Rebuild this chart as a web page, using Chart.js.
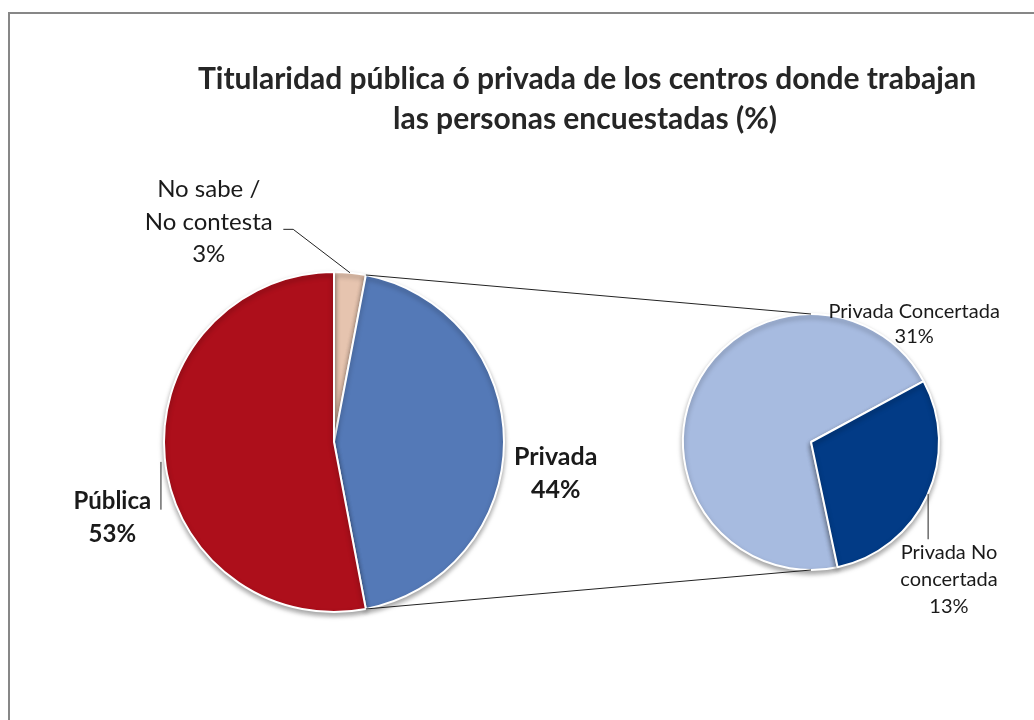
<!DOCTYPE html>
<html>
<head>
<meta charset="utf-8">
<script src="https://cdn.jsdelivr.net/npm/chart.js@4"></script>
<style>
  body { margin: 0; background: #fff; overflow: hidden; }
  #marco { position: absolute; left: 8px; top: 12px; width: 1100px; height: 800px; border: 2px solid #878787; }
  canvas { position: absolute; left: 0; top: 0; }
</style>
</head>
<body>
<div id="marco"></div>
<canvas id="principal" width="1034" height="720"></canvas>
<canvas id="secundario" width="1034" height="720"></canvas>
<script>
// Datos del gráfico
const titulo = ['Titularidad pública ó privada de los centros donde trabajan', 'las personas encuestadas (%)'];
const categorias = ['No sabe / No contesta', 'Privada', 'Pública'];
const valores = [3, 44, 53];
const lineasCategorias = [['No sabe /', 'No contesta'], ['Privada'], ['Pública']];
const subcategorias = ['Privada Concertada', 'Privada No concertada'];
const subvalores = [31, 13];
const lineasSubcategorias = [['Privada Concertada'], ['Privada No', 'concertada']];

const coloresPrincipal = ['#E6C4AF', '#5479B7', '#AD0F1B'];
const coloresSecundario = ['#A7BBE0', '#023B86'];

// posición de etiquetas relativa al centro (en radios)
const posPrincipal = [
  { dx: -0.737, dy: -1.485, lh: 32.5, font: '24px Lato', guia: [[-0.298, -1.251], [-0.24, -1.251], 'medio'] },
  { dx: 1.304, dy: 0.088, lh: 33, font: 'bold 25px Lato' },
  { dx: -1.304, dy: 0.351, lh: 33, font: 'bold 24px Lato', guia: [[-1.018, 0.117], [-1.018, 0.398]] }
];
const posSecundario = [
  { dx: 0.806, dy: -1.016, lh: 25, font: '20px Lato' },
  { dx: 1.078, dy: 0.86, lh: 27, font: '20px Lato', guia: [[0.915, 0.405], [0.915, 0.760]] }
];

function sombra(chart) {
  const ctx = chart.ctx;
  ctx.save();
  ctx.shadowColor = 'rgba(0,0,0,0.35)';
  ctx.shadowBlur = 5;
  ctx.shadowOffsetY = 3;
}

function dibujarEtiquetas(chart, lineas, vals, pos) {
  const ctx = chart.ctx;
  const arcos = chart.getDatasetMeta(0).data;
  ctx.save();
  arcos.forEach((arc, i) => {
    const p = pos[i];
    const r = arc.outerRadius;
    const textos = lineas[i].concat([vals[i] + '%']);
    ctx.font = p.font;
    ctx.fillStyle = '#1a1a1a';
    ctx.textAlign = 'center';
    ctx.textBaseline = 'middle';
    textos.forEach((t, k) => {
      ctx.fillText(t, arc.x + p.dx * r, arc.y + p.dy * r + k * p.lh);
    });
    if (p.guia) {
      ctx.strokeStyle = '#222';
      ctx.lineWidth = 1;
      ctx.beginPath();
      ctx.moveTo(arc.x + p.guia[0][0] * r, arc.y + p.guia[0][1] * r);
      ctx.lineTo(arc.x + p.guia[1][0] * r, arc.y + p.guia[1][1] * r);
      if (p.guia[2] === 'medio') {
        const a = (arc.startAngle + arc.endAngle) / 2;
        ctx.lineTo(arc.x + Math.cos(a) * r, arc.y + Math.sin(a) * r);
      }
      ctx.stroke();
    }
  });
  ctx.restore();
}

const graficoPrincipal = new Chart(document.getElementById('principal'), {
  type: 'pie',
  data: {
    labels: categorias,
    datasets: [{
      data: valores,
      backgroundColor: coloresPrincipal,
      borderColor: '#ffffff',
      borderWidth: 2
    }]
  },
  options: {
    responsive: false,
    animation: false,
    devicePixelRatio: 1,
    rotation: 0,
    layout: { padding: { top: 271, bottom: 107, left: 163, right: 529 } },
    plugins: { legend: { display: false }, tooltip: { enabled: false } }
  },
  plugins: [{
    id: 'extrasPrincipal',
    beforeDatasetsDraw: sombra,
    afterDatasetsDraw(chart) {
      chart.ctx.restore();
      const ctx = chart.ctx;
      ctx.save();
      ctx.font = 'bold 30px Lato';
      ctx.fillStyle = '#262626';
      ctx.textAlign = 'center';
      ctx.textBaseline = 'middle';
      ctx.fillText(titulo[0], 587, 79);
      ctx.fillText(titulo[1], 585, 119);
      ctx.restore();
      dibujarEtiquetas(chart, lineasCategorias, valores, posPrincipal);
    }
  }]
});

const graficoSecundario = new Chart(document.getElementById('secundario'), {
  type: 'pie',
  data: {
    labels: subcategorias,
    datasets: [{
      data: subvalores,
      backgroundColor: coloresSecundario,
      borderColor: '#ffffff',
      borderWidth: 2
    }]
  },
  options: {
    responsive: false,
    animation: false,
    devicePixelRatio: 1,
    rotation: 168,
    layout: { padding: { top: 313, bottom: 149, left: 682, right: 94 } },
    plugins: { legend: { display: false }, tooltip: { enabled: false } }
  },
  plugins: [{
    id: 'extrasSecundario',
    beforeDatasetsDraw: sombra,
    afterDatasetsDraw(chart) {
      chart.ctx.restore();
      dibujarEtiquetas(chart, lineasSubcategorias, subvalores, posSecundario);
      // líneas de conexión entre la porción "Privada" y el segundo gráfico
      const privada = graficoPrincipal.getDatasetMeta(0).data[1];
      const sub = chart.getDatasetMeta(0).data[0];
      const ctx = chart.ctx;
      const r = privada.outerRadius;
      ctx.save();
      ctx.strokeStyle = '#222';
      ctx.lineWidth = 1;
      ctx.beginPath();
      ctx.moveTo(privada.x + Math.cos(privada.startAngle) * r, privada.y + Math.sin(privada.startAngle) * r);
      ctx.lineTo(sub.x, sub.y - sub.outerRadius);
      ctx.moveTo(privada.x + Math.cos(privada.endAngle) * r, privada.y + Math.sin(privada.endAngle) * r);
      ctx.lineTo(sub.x, sub.y + sub.outerRadius);
      ctx.stroke();
      ctx.restore();
    }
  }]
});
</script>
</body>
</html>
